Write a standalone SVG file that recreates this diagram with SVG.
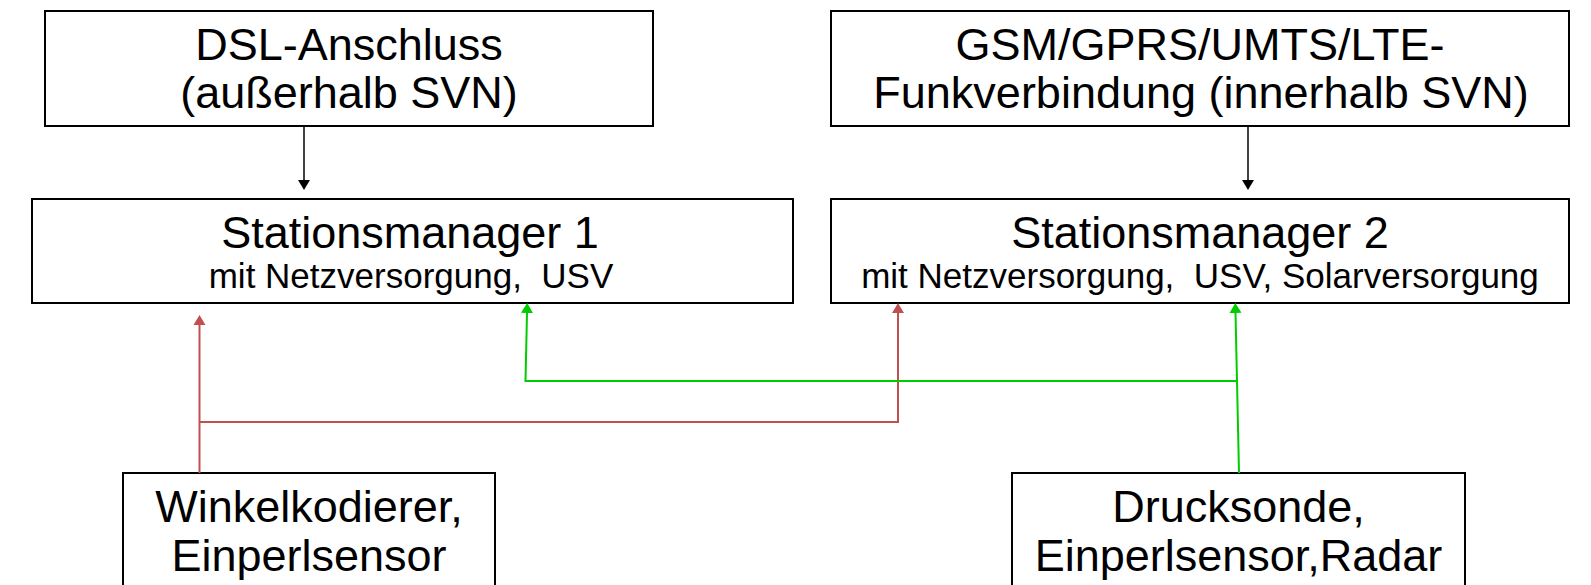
<svg xmlns="http://www.w3.org/2000/svg" width="1591" height="585" viewBox="0 0 1591 585">
<style>
.box{fill:#fff;stroke:#000;stroke-width:2}
.big{font-family:"Liberation Sans",Arial,sans-serif;font-size:45px;fill:#000;text-anchor:middle}
.small{font-family:"Liberation Sans",Arial,sans-serif;font-size:35px;fill:#000;text-anchor:middle}
.cb{fill:none;stroke:#000;stroke-width:1.5}
.cr{fill:none;stroke:#c0504d;stroke-width:2}
.cg{fill:none;stroke:#00cc00;stroke-width:2}
</style>
<defs>
<marker id="ab" markerUnits="userSpaceOnUse" markerWidth="12" markerHeight="14" viewBox="0 -7 12 14" refX="0" refY="0" orient="auto"><path d="M0,-6 L10,0 L0,6 z" fill="#000"/></marker>
<marker id="ar" markerUnits="userSpaceOnUse" markerWidth="12" markerHeight="14" viewBox="0 -7 12 14" refX="0" refY="0" orient="auto"><path d="M0,-6 L10,0 L0,6 z" fill="#c0504d"/></marker>
<marker id="ag" markerUnits="userSpaceOnUse" markerWidth="12" markerHeight="14" viewBox="0 -7 12 14" refX="0" refY="0" orient="auto"><path d="M0,-6 L10,0 L0,6 z" fill="#00cc00"/></marker>
</defs>
<rect width="1591" height="585" fill="#fff"/>
<g id="dsl">
<rect class="box" x="45" y="11" width="608" height="115"/>
<text class="big" x="349" y="60">DSL-Anschluss</text>
<text class="big" x="349" y="108">(außerhalb SVN)</text>
</g>
<g id="gsm">
<rect class="box" x="831" y="11" width="738" height="115"/>
<text class="big" x="1200" y="60">GSM/GPRS/UMTS/LTE-</text>
<text class="big" x="1201" y="108">Funkverbindung (innerhalb SVN)</text>
</g>
<g id="sm1">
<rect class="box" x="32" y="199" width="761" height="104"/>
<text class="big" x="410" y="248">Stationsmanager 1</text>
<text class="small" x="411" y="287.5" xml:space="preserve">mit Netzversorgung,  USV</text>
</g>
<g id="sm2">
<rect class="box" x="831" y="199" width="738" height="104"/>
<text class="big" x="1200" y="248">Stationsmanager 2</text>
<text class="small" x="1200" y="287.5" xml:space="preserve">mit Netzversorgung,  USV, Solarversorgung</text>
</g>
<g id="winkel">
<rect class="box" x="123" y="473" width="372" height="130"/>
<text class="big" x="309" y="522">Winkelkodierer,</text>
<text class="big" x="309" y="571">Einperlsensor</text>
</g>
<g id="druck">
<rect class="box" x="1012" y="473" width="453" height="130"/>
<text class="big" x="1238.5" y="522">Drucksonde,</text>
<text class="big" x="1238.5" y="571">Einperlsensor,Radar</text>
</g>
<g id="connectors">
<line class="cb" x1="304" y1="127" x2="304" y2="180" marker-end="url(#ab)"/>
<line class="cb" x1="1248" y1="126" x2="1248" y2="180" marker-end="url(#ab)"/>
<line class="cr" x1="199.5" y1="473" x2="199.5" y2="325" marker-end="url(#ar)"/>
<polyline class="cr" points="199.5,422 898,422 898,313" marker-end="url(#ar)"/>
<polyline class="cg" points="1239,473 1237,381 1235.5,313" marker-end="url(#ag)"/>
<polyline class="cg" points="1237,381 525.5,381 527,313" marker-end="url(#ag)"/>
</g>
</svg>
